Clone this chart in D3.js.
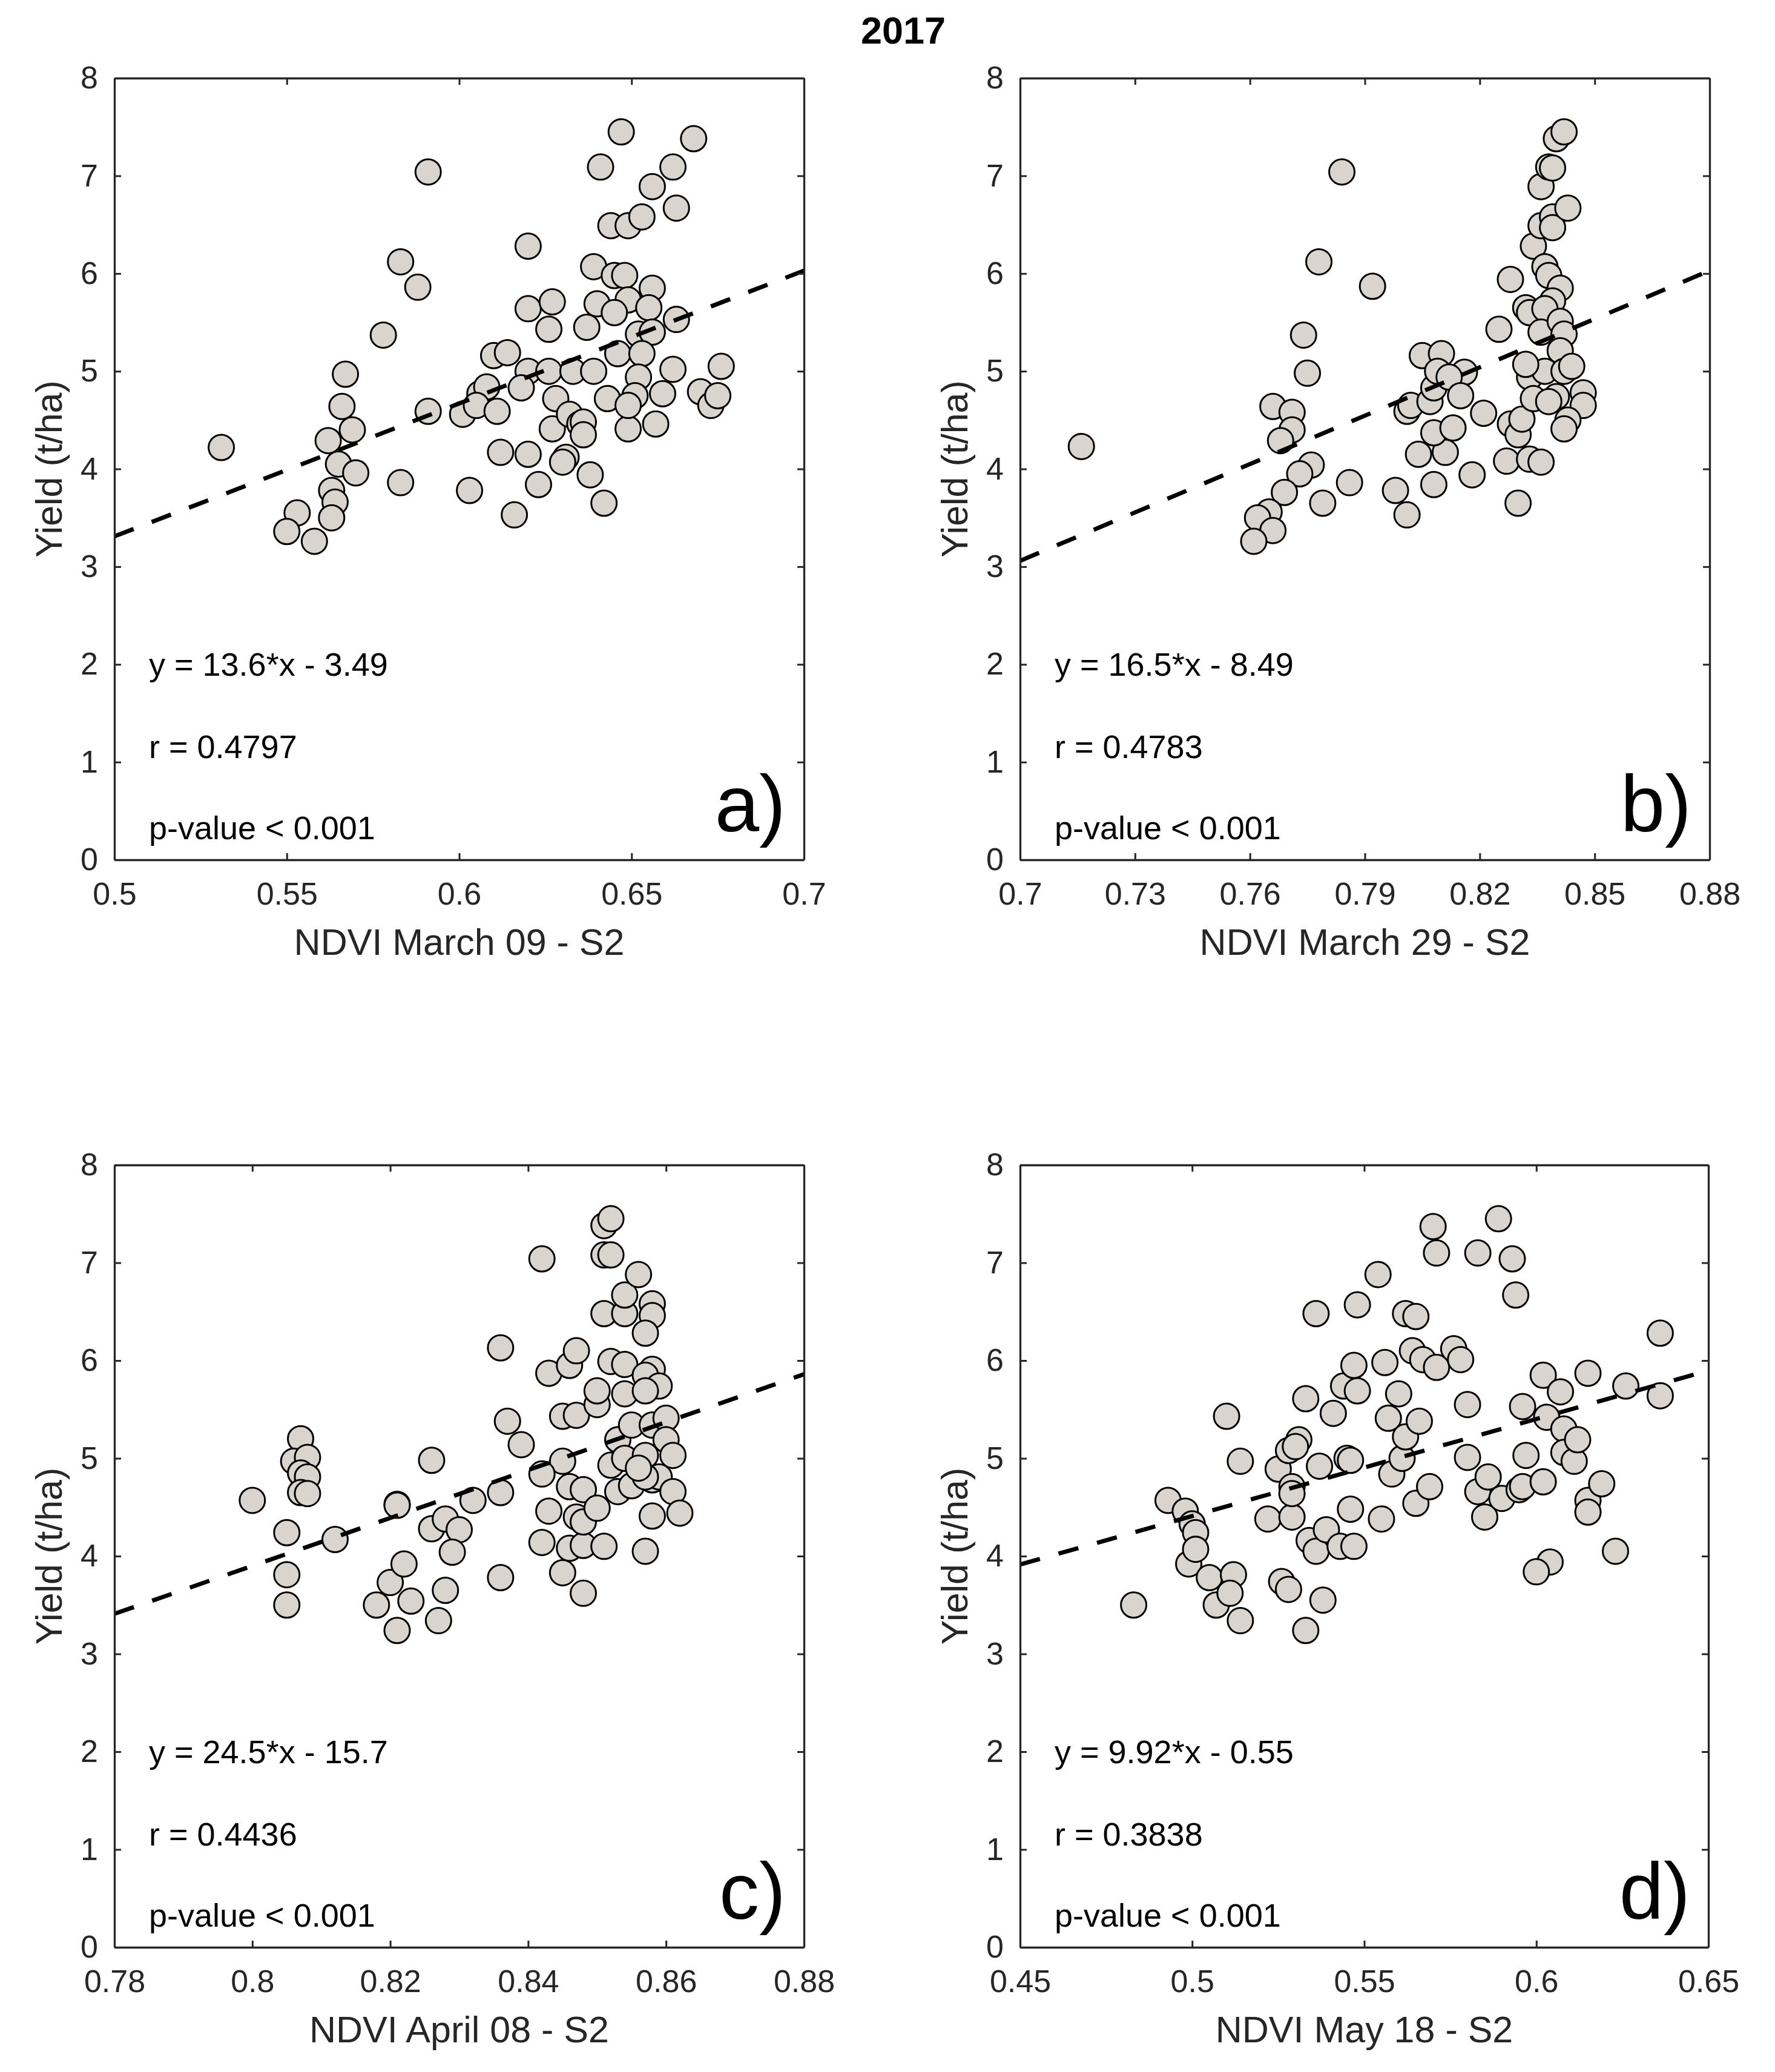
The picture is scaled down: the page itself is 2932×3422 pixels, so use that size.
<!DOCTYPE html>
<html>
<head>
<meta charset="utf-8">
<script src="https://cdn.jsdelivr.net/npm/d3@7"></script>
<style>
  body { margin: 0; background: #fff; }
  svg { display: block; }
</style>
</head>
<body>
<div id="chart"></div>
<script>
// NDVI (x) and yield (t/ha)
const ndviMar09 = [0.531,0.591,0.647,0.668,0.641,0.662,0.656,0.663,0.644,0.649,0.653,0.620,0.583,0.588,0.639,0.645,0.648,0.656,0.649,0.640,0.645,0.655,0.620,0.627,0.626,0.637,0.652,0.656,0.663,0.578,0.646,0.653,0.610,0.614,0.567,0.620,0.626,0.633,0.639,0.652,0.662,0.676,0.566,0.569,0.562,0.565,0.570,0.563,0.564,0.563,0.553,0.550,0.558,0.583,0.591,0.601,0.606,0.608,0.605,0.611,0.618,0.628,0.612,0.620,0.603,0.616,0.623,0.627,0.631,0.630,0.632,0.635,0.636,0.636,0.638,0.642,0.643,0.649,0.651,0.649,0.657,0.659,0.670,0.673,0.675];
const yieldMar09 = [4.22,7.04,7.45,7.38,7.09,7.09,6.89,6.67,6.49,6.49,6.58,6.28,6.12,5.86,6.07,5.98,5.98,5.85,5.73,5.69,5.60,5.65,5.64,5.71,5.43,5.45,5.38,5.40,5.53,5.37,5.18,5.18,5.16,5.19,4.97,5.00,5.00,5.00,5.00,4.94,5.02,5.05,4.64,4.40,4.29,4.05,3.96,3.78,3.66,3.50,3.55,3.36,3.26,3.86,4.59,4.56,4.77,4.84,4.65,4.59,4.83,4.72,4.17,4.15,3.78,3.53,3.84,4.41,4.12,4.07,4.56,4.46,4.48,4.35,3.94,3.65,4.72,4.41,4.75,4.65,4.46,4.77,4.79,4.65,4.75];

const ndviMar29 = [0.716,0.784,0.778,0.792,0.774,0.775,0.766,0.771,0.771,0.768,0.776,0.773,0.769,0.765,0.762,0.766,0.761,0.779,0.786,0.798,0.801,0.808,0.804,0.811,0.808,0.813,0.801,0.802,0.807,0.808,0.805,0.810,0.809,0.816,0.812,0.815,0.821,0.818,0.830,0.827,0.833,0.836,0.828,0.830,0.831,0.825,0.828,0.834,0.836,0.839,0.839,0.836,0.838,0.839,0.840,0.842,0.843,0.837,0.838,0.841,0.839,0.832,0.833,0.837,0.836,0.841,0.842,0.841,0.833,0.837,0.842,0.844,0.834,0.840,0.847,0.847,0.843,0.842,0.838,0.832];
const yieldMar29 = [4.23,7.04,6.12,5.87,5.37,4.98,4.64,4.58,4.40,4.29,4.04,3.95,3.76,3.56,3.50,3.37,3.26,3.65,3.86,3.78,3.53,3.84,4.15,4.17,4.37,4.42,4.59,4.65,4.69,4.83,5.16,5.18,5.00,4.99,4.94,4.75,4.57,3.94,3.65,4.08,4.10,4.07,4.46,4.35,4.51,5.43,5.94,6.28,6.49,6.58,6.47,6.89,7.09,7.08,7.38,7.45,6.67,6.07,5.98,5.85,5.72,5.65,5.60,5.64,5.40,5.51,5.38,5.21,4.94,5.00,5.00,5.05,4.72,4.74,4.78,4.65,4.50,4.41,4.69,5.07];

const ndviApr08 = [0.800,0.805,0.805,0.805,0.807,0.806,0.808,0.807,0.808,0.807,0.808,0.812,0.821,0.821,0.820,0.822,0.818,0.823,0.821,0.826,0.826,0.828,0.830,0.829,0.828,0.827,0.832,0.836,0.837,0.836,0.836,0.839,0.842,0.843,0.846,0.847,0.845,0.847,0.845,0.842,0.843,0.842,0.846,0.845,0.848,0.848,0.847,0.848,0.846,0.848,0.850,0.851,0.853,0.850,0.850,0.851,0.851,0.852,0.851,0.852,0.852,0.853,0.852,0.854,0.854,0.854,0.854,0.854,0.855,0.855,0.856,0.858,0.858,0.857,0.858,0.857,0.859,0.857,0.858,0.860,0.860,0.861,0.857,0.858,0.859,0.861,0.858,0.862,0.857,0.857,0.856];
const yieldApr08 = [4.57,4.24,3.81,3.50,5.20,4.97,5.01,4.85,4.81,4.65,4.64,4.17,4.53,4.52,3.73,3.92,3.50,3.54,3.24,4.98,4.28,4.38,4.27,4.04,3.65,3.34,4.57,6.13,5.38,4.65,3.78,5.14,7.04,5.87,5.95,6.10,5.43,5.44,4.97,4.84,4.46,4.14,4.08,3.83,3.62,4.11,4.40,4.35,4.71,4.68,4.49,4.10,4.66,5.55,5.69,6.48,7.08,7.08,7.38,7.45,5.99,5.19,4.93,5.00,5.66,6.48,6.67,5.96,5.34,4.72,6.88,6.58,6.46,6.28,5.91,5.85,5.74,5.69,5.34,5.41,5.19,5.03,5.03,4.78,4.81,4.66,4.41,4.44,4.05,4.81,4.90];

const ndviMay18 = [0.483,0.493,0.498,0.500,0.501,0.499,0.501,0.505,0.507,0.512,0.511,0.514,0.510,0.514,0.522,0.525,0.529,0.529,0.528,0.531,0.530,0.529,0.526,0.528,0.533,0.533,0.536,0.537,0.534,0.536,0.539,0.538,0.541,0.543,0.547,0.545,0.546,0.546,0.544,0.548,0.547,0.548,0.554,0.555,0.556,0.560,0.557,0.558,0.561,0.562,0.562,0.565,0.564,0.566,0.565,0.569,0.567,0.570,0.571,0.571,0.576,0.578,0.580,0.580,0.583,0.589,0.593,0.594,0.583,0.586,0.585,0.590,0.596,0.597,0.595,0.596,0.602,0.602,0.603,0.604,0.600,0.607,0.608,0.608,0.611,0.612,0.615,0.615,0.615,0.619,0.623,0.626,0.636,0.636];
const yieldMay18 = [3.50,4.57,4.46,4.33,4.24,3.92,4.07,3.78,3.50,3.81,3.62,3.34,5.43,4.97,4.38,4.89,4.71,4.40,5.08,5.19,5.12,4.64,3.74,3.66,3.24,5.61,6.48,4.92,4.16,4.05,4.27,3.55,5.46,4.10,4.10,5.00,4.98,4.48,5.74,5.69,5.95,6.57,6.88,4.38,5.98,5.66,5.41,4.84,5.00,5.22,6.48,6.45,6.10,5.38,4.54,4.71,6.01,7.37,7.10,5.93,6.12,6.01,5.55,5.01,7.10,7.45,7.04,6.67,4.66,4.81,4.40,4.59,5.53,5.03,4.68,4.71,4.76,5.85,5.42,3.94,3.84,5.68,5.30,5.06,4.97,5.19,5.87,4.57,4.45,4.74,4.05,5.74,6.28,5.64];

// axis ticks per panel
const xTicksMar09 = [0.5, 0.55, 0.6, 0.65, 0.7];
const xTicksMar29 = [0.7, 0.73, 0.76, 0.79, 0.82, 0.85, 0.88];
const xTicksApr08 = [0.78, 0.8, 0.82, 0.84, 0.86, 0.88];
const xTicksMay18 = [0.45, 0.5, 0.55, 0.6, 0.65];
const yTicks = [0, 1, 2, 3, 4, 5, 6, 7, 8];

// linear fits (slope, intercept) and stats as printed
const slopes = [13.6, 16.5, 24.5, 9.92];
const intercepts = [-3.49, -8.49, -15.7, -0.55];
const fitLabels = ["y = 13.6*x - 3.49", "y = 16.5*x - 8.49", "y = 24.5*x - 15.7", "y = 9.92*x - 0.55"];
const rLabels = ["r = 0.4797", "r = 0.4783", "r = 0.4436", "r = 0.3838"];
const pLabel = "p-value < 0.001";
const xLabels = ["NDVI March 09 - S2", "NDVI March 29 - S2", "NDVI April 08 - S2", "NDVI May 18 - S2"];
const panelTags = ["a)", "b)", "c)", "d)"];
const title = "2017";

const panels = [
  {x: ndviMar09, y: yieldMar09, ticks: xTicksMar09},
  {x: ndviMar29, y: yieldMar29, ticks: xTicksMar29},
  {x: ndviApr08, y: yieldApr08, ticks: xTicksApr08},
  {x: ndviMay18, y: yieldMay18, ticks: xTicksMay18}
];

// plot boxes in page pixels
const layout = [
  {left: 189,  top: 129,  w: 1139, h: 1291},
  {left: 1685, top: 129,  w: 1139, h: 1291},
  {left: 189,  top: 1924, w: 1139, h: 1292},
  {left: 1685, top: 1924, w: 1137, h: 1292}
];

const font = "'Liberation Sans', Arial, Helvetica, sans-serif";
const axisCol = "#262626";
const markerFill = "#d9d4ce";

const svg = d3.select("#chart").append("svg")
    .attr("width", 2932)
    .attr("height", 3422)
    .style("font-family", font);

svg.append("rect").attr("width", 2932).attr("height", 3422).attr("fill", "#fff");

svg.append("text")
    .attr("x", 1492).attr("y", 72)
    .attr("text-anchor", "middle")
    .attr("font-size", 63).attr("font-weight", "bold")
    .attr("fill", "#000")
    .text(title);

panels.forEach((p, i) => {
    const L = layout[i];
    const g = svg.append("g").attr("transform", `translate(${L.left},${L.top})`);

    const xs = d3.scaleLinear()
        .domain(d3.extent(p.ticks))
        .range([0, L.w]);
    const ys = d3.scaleLinear()
        .domain([0, 8])
        .range([L.h, 0]);

    const pts = p.x.map((v, k) => ({ndvi: v, yld: p.y[k]}));

    // scatter
    g.selectAll("circle.pt")
        .data(pts)
        .enter()
            .append("circle")
                .attr("class", "pt")
                .attr("cx", d => xs(d.ndvi))
                .attr("cy", d => ys(d.yld))
                .attr("r", 21)
                .attr("fill", markerFill)
                .attr("stroke", "#000")
                .attr("stroke-width", 3);

    // dashed fit line across the x range
    const xd = xs.domain();
    g.append("line")
        .attr("x1", xs(xd[0])).attr("y1", ys(slopes[i] * xd[0] + intercepts[i]))
        .attr("x2", xs(xd[1])).attr("y2", ys(slopes[i] * xd[1] + intercepts[i]))
        .attr("stroke", "#000")
        .attr("stroke-width", 7)
        .attr("stroke-dasharray", "34,32");

    // axes, ticks pointing inward, box on
    const fmt = d => String(d);
    const styleAxis = sel => {
        sel.attr("font-family", font).attr("font-size", 52);
        sel.selectAll("path").attr("stroke", axisCol).attr("stroke-width", 3.3);
        sel.selectAll("line").attr("stroke", axisCol).attr("stroke-width", 3);
        sel.selectAll("text").attr("fill", axisCol);
    };

    g.append("g")
        .attr("transform", `translate(0,${L.h})`)
        .call(d3.axisBottom(xs).tickValues(p.ticks).tickFormat(fmt).tickSizeInner(-11).tickSizeOuter(0).tickPadding(37))
        .call(styleAxis);
    g.append("g")
        .call(d3.axisLeft(ys).tickValues(yTicks).tickFormat(fmt).tickSizeInner(-11).tickSizeOuter(0).tickPadding(27))
        .call(styleAxis);
    g.append("g")
        .call(d3.axisTop(xs).tickValues(p.ticks).tickFormat("").tickSizeInner(-11).tickSizeOuter(0))
        .call(styleAxis);
    g.append("g")
        .attr("transform", `translate(${L.w},0)`)
        .call(d3.axisRight(ys).tickValues(yTicks).tickFormat("").tickSizeInner(-11).tickSizeOuter(0))
        .call(styleAxis);

    // axis titles
    g.append("text")
        .attr("x", L.w / 2).attr("y", L.h + 157)
        .attr("text-anchor", "middle")
        .attr("font-size", 61).attr("fill", axisCol)
        .text(xLabels[i]);
    g.append("text")
        .attr("transform", `translate(-109,${L.h / 2}) rotate(-90)`)
        .attr("text-anchor", "middle")
        .attr("dy", "0.36em")
        .attr("font-size", 61).attr("fill", axisCol)
        .text("Yield (t/ha)");

    // fit statistics
    const notes = [[fitLabels[i], 2.0], [rLabels[i], 1.16], [pLabel, 0.33]];
    notes.forEach(([txt, v]) => {
        g.append("text")
            .attr("x", 57).attr("y", ys(v) + 19)
            .attr("font-size", 54).attr("fill", "#000")
            .text(txt);
    });

    // panel tag
    g.append("text")
        .attr("x", L.w - 30).attr("y", L.h - 47)
        .attr("text-anchor", "end")
        .attr("font-size", 132).attr("fill", "#000")
        .text(panelTags[i]);
});
</script>
</body>
</html>
